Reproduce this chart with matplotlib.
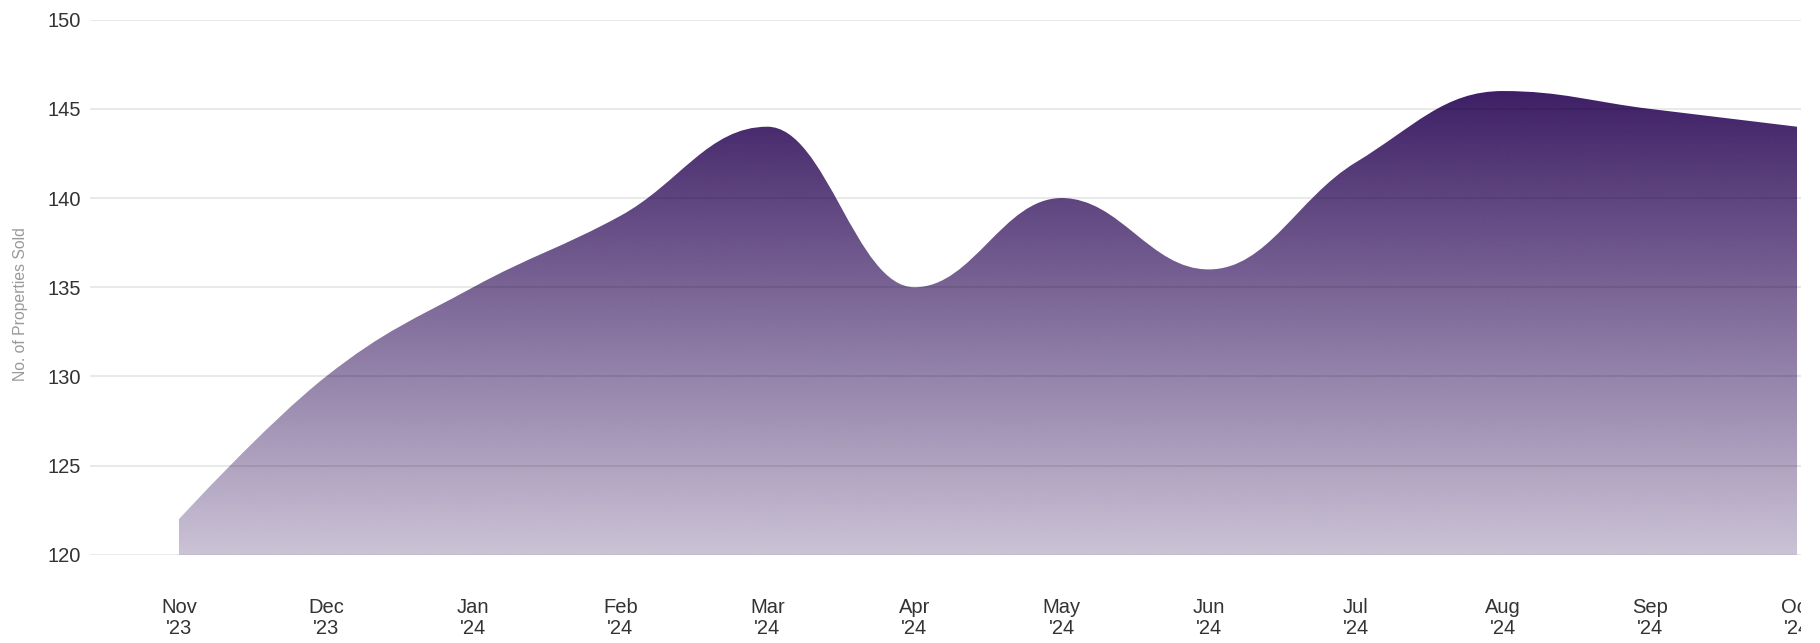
import numpy as np
import matplotlib
matplotlib.use("Agg")
import matplotlib.pyplot as plt
from matplotlib.path import Path
from matplotlib.patches import PathPatch
from matplotlib.transforms import Bbox

plt.rcParams['font.family'] = ['Liberation Sans', 'DejaVu Sans']

months = ["Nov\n'23", "Dec\n'23", "Jan\n'24", "Feb\n'24", "Mar\n'24", "Apr\n'24",
          "May\n'24", "Jun\n'24", "Jul\n'24", "Aug\n'24", "Sep\n'24", "Oct\n'24"]
sold = [122, 130, 135, 139, 144, 135, 140, 136, 142, 146, 145, 144]
y_ticks = [120, 125, 130, 135, 140, 145, 150]


def spline_path(xs, ys, base):
    # smooth curve through the points (same idea as a highcharts "spline")
    s = 1.5
    n = len(xs)
    lc = [None] * n
    rc = [None] * n
    for i in range(1, n - 1):
        px, py = xs[i], ys[i]
        lx, ly = xs[i - 1], ys[i - 1]
        nx, ny = xs[i + 1], ys[i + 1]
        lcx = (s * px + lx) / (s + 1)
        lcy = (s * py + ly) / (s + 1)
        rcx = (s * px + nx) / (s + 1)
        rcy = (s * py + ny) / (s + 1)
        corr = (rcy - lcy) * (rcx - px) / (rcx - lcx) + py - rcy
        lcy += corr
        rcy += corr
        if lcy > ly and lcy > py:
            lcy = max(ly, py); rcy = 2 * py - lcy
        elif lcy < ly and lcy < py:
            lcy = min(ly, py); rcy = 2 * py - lcy
        if rcy > ny and rcy > py:
            rcy = max(ny, py); lcy = 2 * py - rcy
        elif rcy < ny and rcy < py:
            rcy = min(ny, py); lcy = 2 * py - rcy
        lc[i] = (lcx, lcy)
        rc[i] = (rcx, rcy)
    verts = [(xs[0], base), (xs[0], ys[0])]
    codes = [Path.MOVETO, Path.LINETO]
    for i in range(1, n):
        c1 = rc[i - 1] if rc[i - 1] else (xs[i - 1], ys[i - 1])
        c2 = lc[i] if lc[i] else (xs[i], ys[i])
        verts += [c1, c2, (xs[i], ys[i])]
        codes += [Path.CURVE4] * 3
    verts += [(xs[-1], base), (xs[0], base)]
    codes += [Path.LINETO, Path.CLOSEPOLY]
    return Path(verts, codes)


fig = plt.figure(figsize=(18.2, 6.43), dpi=100)
ax = fig.add_axes([90 / 1820, 1 - 554.8 / 643, (1801 - 90) / 1820, (554.8 - 19.7) / 643])

x = np.arange(len(sold))
ax.set_xlim(-0.605, 11.027)
ax.set_ylim(120, 150)

path = spline_path(list(x), sold, 120)
patch = PathPatch(path, facecolor='none', edgecolor='none')
ax.add_patch(patch)

# vertical gradient: dark purple on top, fading down to 120
top = max(sold)
h = 256
alpha = np.linspace(0.27, 1.0, h)
grad = np.zeros((h, 2, 4))
grad[..., 0] = 61 / 255
grad[..., 1] = 30 / 255
grad[..., 2] = 101 / 255
grad[..., 3] = alpha[:, None]
im = ax.imshow(grad, extent=[-0.605, 11.027, 120, top], origin='lower',
               aspect='auto', interpolation='bilinear', zorder=1)
im.set_clip_path(patch)

ax.set_yticks(y_ticks)
ax.grid(axis='y', color='black', alpha=0.1, linewidth=1.2, zorder=3)
ax.set_axisbelow(False)
ax.set_xticks(x)
ax.set_xticklabels(months, linespacing=1.15)
ax.tick_params(axis='both', length=0, labelsize=14.5, labelcolor='#333333')
ax.tick_params(axis='x', pad=31)
ax.tick_params(axis='y', pad=6.5)
for sp in ax.spines.values():
    sp.set_visible(False)

fig.text(21 / 1820, 1 - 304 / 643, 'No. of Properties Sold', rotation=90,
         ha='center', va='center', fontsize=11.3, color='#999999')

# the last month label is cut at the chart's right edge
clip = Bbox.from_extents(0, 0, 1801, 643)
for lab in ax.get_xticklabels():
    lab.set_clip_on(True)
    lab.set_clip_box(clip)

fig.savefig('out.png', dpi=100)
